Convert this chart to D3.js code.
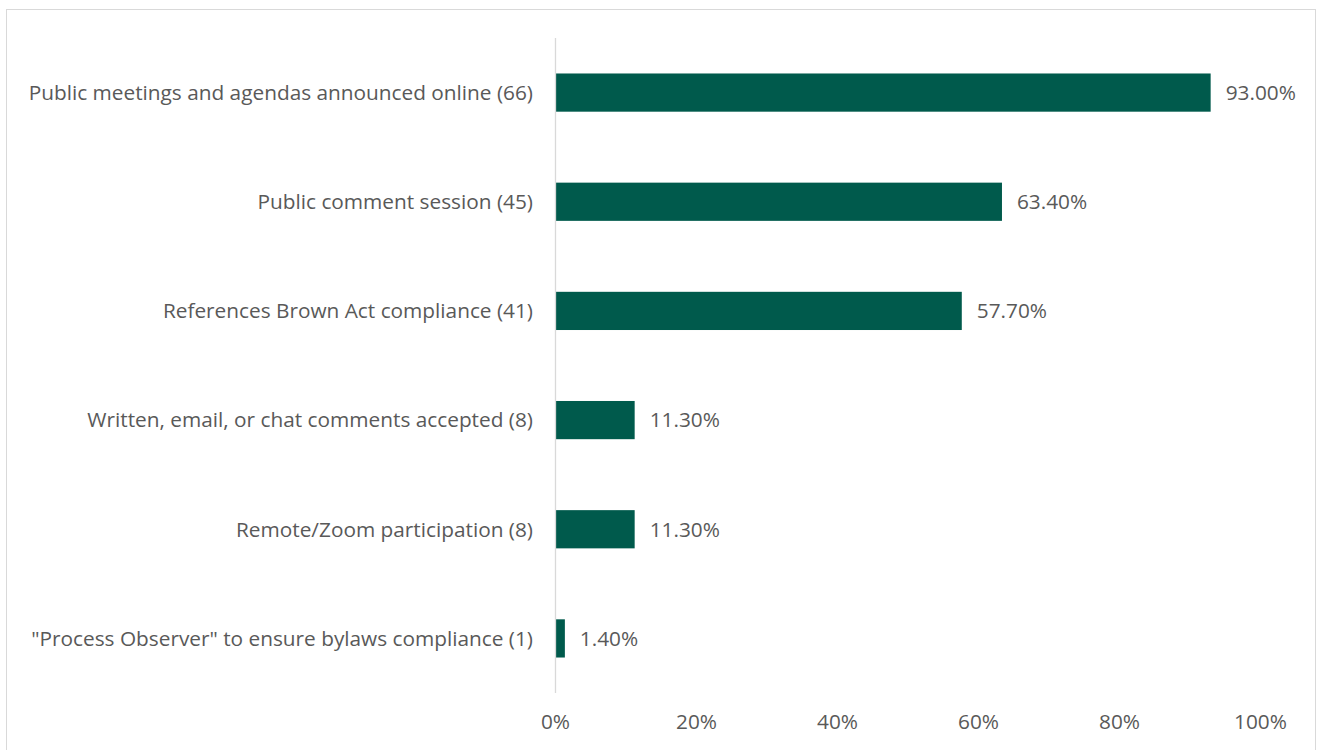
<!DOCTYPE html>
<html>
<head>
<meta charset="utf-8">
<script src="https://cdn.jsdelivr.net/npm/d3@7"></script>
<style>
  html, body { margin: 0; padding: 0; background: #fff; }
  svg { display: block; }
  text { font-family: "Open Sans", "Noto Sans", sans-serif; fill: #595959; }
</style>
</head>
<body>
<svg id="chart" width="1320" height="750"></svg>
<script>
// Meeting transparency practices: share of bodies using each practice
const categories = [
  "Public meetings and agendas announced online (66)",
  "Public comment session (45)",
  "References Brown Act compliance (41)",
  "Written, email, or chat comments accepted (8)",
  "Remote/Zoom participation (8)",
  "\"Process Observer\" to ensure bylaws compliance (1)"
];
const shares = [93.0, 63.4, 57.7, 11.3, 11.3, 1.4];
const tickValues = [0, 20, 40, 60, 80, 100];

const fontSize = 20.8;
const svg = d3.select("#chart");

// outer frame
svg.append("rect")
  .attr("x", 6.5).attr("y", 9.5)
  .attr("width", 1309).attr("height", 760)
  .attr("fill", "none").attr("stroke", "#D9D9D9").attr("stroke-width", 1);

const plot = { left: 555, right: 1260, top: 38, bottom: 693 };

const x = d3.scaleLinear().domain([0, 100]).range([plot.left, plot.right]);
const y = d3.scaleBand().domain(categories).range([plot.top, plot.bottom]).paddingInner(0.65).paddingOuter(0.325);

// bars
svg.append("g").selectAll("rect")
  .data(categories)
  .join("rect")
  .attr("x", x(0))
  .attr("y", d => y(d))
  .attr("width", (d, i) => x(shares[i]) - x(0))
  .attr("height", y.bandwidth())
  .attr("fill", "#005A4C");

// vertical axis line
svg.append("line")
  .attr("x1", x(0) + 0.5).attr("x2", x(0) + 0.5)
  .attr("y1", plot.top).attr("y2", plot.bottom)
  .attr("stroke", "#D9D9D9").attr("stroke-width", 1.3);

// category labels
svg.append("g").selectAll("text")
  .data(categories)
  .join("text")
  .attr("x", 533)
  .attr("y", d => y(d) + y.bandwidth() / 2)
  .attr("dy", "0.35em")
  .attr("text-anchor", "end")
  .attr("font-size", fontSize)
  .text(d => d);

// value labels
svg.append("g").selectAll("text")
  .data(categories)
  .join("text")
  .attr("x", (d, i) => x(shares[i]) + 15)
  .attr("y", d => y(d) + y.bandwidth() / 2)
  .attr("dy", "0.35em")
  .attr("font-size", fontSize)
  .text((d, i) => shares[i].toFixed(2) + "%");

// bottom axis tick labels
const xAxis = d3.axisBottom(x).tickValues(tickValues).tickSize(0).tickPadding(0)
  .tickFormat(d => d + "%");
const gx = svg.append("g").attr("transform", `translate(0, 716)`).call(xAxis);
gx.select(".domain").remove();
gx.selectAll("text")
  .attr("font-size", fontSize)
  .attr("font-family", "\"Open Sans\", \"Noto Sans\", sans-serif")
  .attr("fill", "#595959")
  .attr("dy", "0.35em")
  .attr("y", 6);
</script>
</body>
</html>
